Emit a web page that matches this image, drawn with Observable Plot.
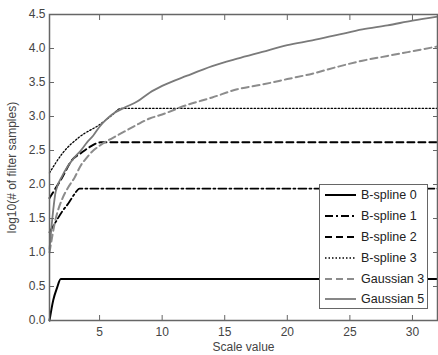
<!DOCTYPE html>
<html><head><meta charset="utf-8">
<script src="https://cdn.jsdelivr.net/npm/d3@7"></script>
<script src="https://cdn.jsdelivr.net/npm/@observablehq/plot@0.6"></script>
<style>
body{margin:0;background:#fff;font-family:"Liberation Sans",Arial,sans-serif;}
#wrap{position:relative;width:438px;height:355px;}
#legend{position:absolute;left:319px;top:184px;width:109px;height:125px;background:#fff;border:1px solid #666;box-sizing:border-box;font-size:12.5px;color:#222;}
#legend div{height:20.8px;display:flex;align-items:center;}
#legend svg{margin-left:4px;margin-right:4px;}
</style>
</head><body><div id="wrap"></div>
<script>
const seriesNames = ["B-spline 0","B-spline 1","B-spline 2","B-spline 3","Gaussian 3","Gaussian 5"];
const bspline0X = [1, 1.3, 1.6, 1.9, 32];
const bspline0Y = [0, 0.3, 0.48, 0.61, 0.61];
const bspline1X = [1, 1.5, 2, 2.5, 3, 3.4, 32];
const bspline1Y = [1.3, 1.45, 1.6, 1.72, 1.86, 1.94, 1.94];
const bspline2X = [1, 2, 2.8, 3.5, 4.2, 5.1, 32];
const bspline2Y = [1.8, 2.1, 2.36, 2.46, 2.55, 2.62, 2.62];
const bspline3X = [1, 2, 3.4, 5, 6, 6.7, 32];
const bspline3Y = [2.17, 2.45, 2.7, 2.88, 3.02, 3.12, 3.12];
const gauss3X = [1, 1.5, 2, 2.5, 3, 3.5, 4, 4.5, 5, 5.5, 6, 7, 8, 9, 10, 12, 14, 16, 18, 20, 22, 24, 26, 28, 30, 32];
const gauss3Y = [1.0, 1.5, 1.78, 1.96, 2.1, 2.28, 2.4, 2.5, 2.57, 2.63, 2.68, 2.78, 2.88, 2.97, 3.03, 3.17, 3.28, 3.4, 3.47, 3.55, 3.63, 3.73, 3.82, 3.89, 3.96, 4.03];
const gauss5X = [1, 1.5, 2, 2.5, 3, 3.5, 4, 4.5, 5, 5.5, 6, 7, 8, 9, 10, 12, 14, 16, 18, 20, 22, 24, 26, 28, 30, 32];
const gauss5Y = [1.05, 1.9, 2.12, 2.28, 2.4, 2.5, 2.62, 2.72, 2.85, 2.95, 3.03, 3.13, 3.22, 3.35, 3.45, 3.6, 3.74, 3.85, 3.95, 4.05, 4.12, 4.2, 4.28, 4.34, 4.41, 4.47];
const xTicks = [5, 10, 15, 20, 25, 30];
const yTicks = [0, 0.5, 1, 1.5, 2, 2.5, 3, 3.5, 4, 4.5];

const styles = [
  {stroke:"#000", strokeWidth:2, dash:null},
  {stroke:"#000", strokeWidth:1.8, dash:"8,3,2,3"},
  {stroke:"#000", strokeWidth:2, dash:"7,4"},
  {stroke:"#000", strokeWidth:1.3, dash:"1.5,2"},
  {stroke:"#8c8c8c", strokeWidth:2, dash:"7,4"},
  {stroke:"#7a7a7a", strokeWidth:1.8, dash:null}
];
const xs = [bspline0X,bspline1X,bspline2X,bspline3X,gauss3X,gauss5X];
const ys = [bspline0Y,bspline1Y,bspline2Y,bspline3Y,gauss3Y,gauss5Y];
const tables = xs.map((X,i)=>X.map((x,j)=>({x, y: ys[i][j]})));

const axisColor = "#666";
const noText = () => "";
const chart = Plot.plot({
  width: 438, height: 355,
  marginLeft: 49, marginRight: 1, marginTop: 14, marginBottom: 35,
  style: {fontFamily: '"Liberation Sans", Arial, sans-serif', fontSize: "12px", color: "#444", background: "#fff"},
  x: {domain: [1, 32]},
  y: {domain: [0, 4.5]},
  marks: [
    ...tables.map((t,i)=>Plot.line(t, {x:"x", y:"y", curve:"monotone-x", stroke: styles[i].stroke, strokeWidth: styles[i].strokeWidth, strokeDasharray: styles[i].dash, strokeLinejoin:"round"})),
    Plot.frame({stroke: axisColor, strokeWidth: 1.5}),
    Plot.axisX(xTicks, {anchor:"bottom", tickSize: -5, tickPadding: 12, stroke: axisColor, label: "Scale value", labelAnchor:"center", labelArrow:"none", labelOffset: 30, fill:"#444"}),
    Plot.axisX(xTicks, {anchor:"top", tickSize: -5, tickFormat: noText, stroke: axisColor, label: null}),
    Plot.axisY(yTicks, {anchor:"left", tickSize: -5, tickPadding: 9, stroke: axisColor, label: "log10(# of filter samples)", labelAnchor:"center", labelArrow: "none", labelOffset: 42, fill:"#444"}),
    Plot.axisY(yTicks, {anchor:"right", tickSize: -5, tickFormat: noText, stroke: axisColor, label: null})
  ]
});
const wrap = document.getElementById("wrap");
wrap.appendChild(chart);
const leg = document.createElement("div");
leg.id = "legend";
seriesNames.forEach((name,i)=>{
  const row = document.createElement("div");
  const s = styles[i];
  row.innerHTML = `<svg width="33" height="6"><line x1="1" y1="3" x2="32" y2="3" stroke="${s.stroke}" stroke-width="${s.strokeWidth}" ${s.dash?`stroke-dasharray="${s.dash}"`:""}/></svg><span>${name}</span>`;
  leg.appendChild(row);
});
wrap.appendChild(leg);
</script>
</body></html>
